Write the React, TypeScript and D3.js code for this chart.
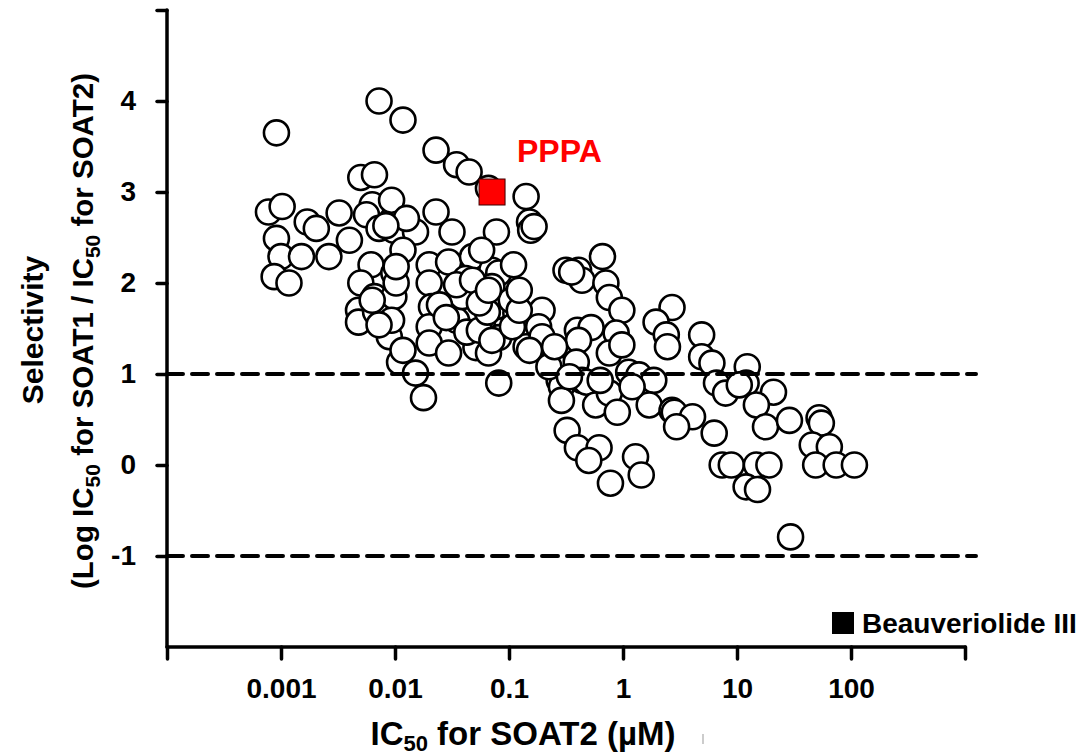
import React, { useEffect, useRef } from 'react'
import * as d3 from 'd3'

// log10 of IC50 for SOAT2 (µM)
const log10IC50 = [
  -3.04, -2.14, -1.93, -1.64, -1.46, -1.35, -1.18, -0.85, -0.82, -0.81, -1.11,
  -3.11, -2.99, -3.04, -3.0, -3.06, -2.93, -2.77, -2.69, -2.82, -2.58, -2.49, -2.4,
  -2.3, -2.18, -2.2, -2.25, -2.03, -2.01, -1.82, -1.9, -1.64, -1.5, -2.21, -2.3,
  -2.32, -2.32, -2.17, -2.18, -2.01, -2.01, -1.99, -2.05, -1.96, -1.82, -1.75, -2.03,
  -1.7, -1.7, -1.68, -1.7, -1.7, -1.53, -1.53, -1.46, -1.41, -1.32, -1.38, -1.15,
  -1.24, -1.09, -1.15, -1.11, -1.22, -1.29, -1.18, -0.94, -0.85, -0.71, -0.74, -1.09,
  -0.62, -0.56, -0.5, -2.14, -1.93, -2.14, -1.93, -1.61, -1.46, -1.37, -1.26, -1.19,
  -1.09, -0.98, -0.96,
  -2.08, -1.99, -2.2, -1.55, -1.32, -1.26, -1.18, -1.15, -0.97, -0.91,
  -0.78, -0.18, -0.39, -0.36, -0.15, -0.12, -0.01, -0.71, -0.82, -0.4, -0.28, -0.39,
  -0.06, -0.12, -0.41, 0.05, 0.14, 0.27, 0.43, 0.29, 0.38, 0.39, 0.69, 0.69, 0.78,
  1.09, 1.08, 0.82, 0.9, 1.32, -0.54, -0.54, -0.36, -0.32, -0.24, -0.12, 0.23, 0.43,
  1.72, -0.65, -0.05, 0.45, 0.61, 0.47, 0.8, 1.02, 1.17, 1.25, 1.46, 1.74, 1.66, 1.81,
  -0.49, -0.4, -0.21, -0.3, -0.11, 0.11, 0.16, 0.87, 0.95, 1.17, 1.28, 1.08, 1.18,
  1.69, 1.87, 2.03, 1.47, -0.01, -0.45, -0.91,
  -0.47, -0.2, 0.08, -0.6
]

// selectivity = log IC50(SOAT1) / IC50(SOAT2)
const selectivity = [
  3.65, 4.0, 3.79, 3.46, 3.3, 3.22, 3.04, 2.95, 2.67, 2.58, 2.56,
  2.78, 2.84, 2.49, 2.29, 2.07, 2.0, 2.67, 2.6, 2.29, 2.29, 2.77, 2.47,
  3.16, 3.19, 2.86, 2.75, 2.91, 2.58, 2.56, 2.71, 2.78, 2.56, 2.2, 2.0,
  1.7, 1.57, 1.68, 1.85, 1.85, 2.11, 2.0, 1.41, 1.13, 1.01, 0.74, 1.59,
  2.2, 2.0, 1.74, 1.52, 1.34, 1.23, 2.23, 1.59, 1.85, 2.29, 2.05, 2.14,
  2.36, 2.11, 1.96, 1.74, 1.48, 1.29, 1.23, 1.67, 1.3, 1.7, 1.52, 0.9,
  1.12, 0.93, 2.14, 2.6, 2.36, 1.54, 1.26, 1.76, 1.98, 1.46, 1.48, 1.68,
  1.4, 1.81, 2.2,
  2.63, 2.18, 1.81, 1.62, 2.03, 1.78, 1.92, 1.37, 1.52, 1.7,
  2.62, 2.29, 2.14, 2.03, 2.0, 1.84, 1.7, 1.41, 1.26, 1.48, 1.51, 1.37,
  1.45, 1.23, 1.13, 1.02, 0.99, 0.93, 1.73, 1.57, 1.43, 1.3, 1.43, 1.19, 1.12,
  1.08, 0.9, 0.9, 0.79, 0.8, 0.86, 0.71, 0.93, 0.91, 0.66, 0.79, 0.66, 0.6,
  0.52, 1.08, 0.58, 0.58, 0.53, 0.42, 0.35, 0.88, 0.66, 0.42, 0.49, 0.46, 0.22, 0.2,
  0.38, 0.19, 0.19, 0.05, -0.2, 0.09, -0.11, 0.0, 0.0, 0.0, 0.0, -0.24, -0.27,
  0.0, 0.0, 0.0, -0.79, 1.32, 2.12, 1.92,
  0.97, 0.93, 0.86, 1.3
]

const pppaIC50 = [0.071]
const pppaSelectivity = [3.0]

const xTicks = [0.0001, 0.001, 0.01, 0.1, 1, 10, 100, 1000]
const xTickLabels = ['', '0.001', '0.01', '0.1', '1', '10', '100', '']
const yTicks = [-1, 0, 1, 2, 3, 4, 5]
const yTickLabels = ['-1', '0', '1', '2', '3', '4', '']
const thresholds = [1, -1]

const FONT = '"Liberation Sans", Arial, Helvetica, sans-serif'

export default function App() {
  const ref = useRef<SVGSVGElement>(null)

  useEffect(() => {
    const svg = d3.select(ref.current)
    svg.selectAll('*').remove()

    const x = d3.scaleLog().domain([1e-4, 1e3]).range([167, 965])
    const y = d3.scaleLinear().domain([-2, 5]).range([647, 10])

    const points = log10IC50.map((v, i) => ({ ic50: Math.pow(10, v), s: selectivity[i] }))

    svg.append('g')
      .selectAll('circle')
      .data(points)
      .enter()
      .append('circle')
      .attr('cx', d => x(d.ic50))
      .attr('cy', d => y(d.s))
      .attr('r', 12.5)
      .attr('fill', '#fff')
      .attr('stroke', '#000')
      .attr('stroke-width', 2.6)

    // PPPA
    svg.append('g')
      .selectAll('rect')
      .data(pppaIC50)
      .enter()
      .append('rect')
      .attr('x', d => x(d) - 13)
      .attr('y', (d, i) => y(pppaSelectivity[i]) - 13)
      .attr('width', 26)
      .attr('height', 26)
      .attr('fill', '#ff0000')
      .attr('stroke', '#3a0000')
      .attr('stroke-width', 1)

    svg.append('text')
      .attr('x', 517)
      .attr('y', 162)
      .attr('fill', '#ff0000')
      .attr('font-family', FONT)
      .attr('font-weight', 'bold')
      .attr('font-size', 32)
      .text('PPPA')

    // threshold lines
    svg.append('g')
      .selectAll('line')
      .data(thresholds)
      .enter()
      .append('line')
      .attr('x1', 167)
      .attr('x2', 976)
      .attr('y1', d => y(d))
      .attr('y2', d => y(d))
      .attr('stroke', '#000')
      .attr('stroke-width', 4)
      .attr('stroke-dasharray', '16,9')
      .attr('stroke-linecap', 'round')

    // axes
    const yAxis = d3.axisLeft(y)
      .tickValues(yTicks)
      .tickSize(10)
      .tickPadding(21)
      .tickFormat((d, i) => yTickLabels[i])
    const gy = svg.append('g').attr('transform', 'translate(167,0)').call(yAxis)

    const xAxis = d3.axisBottom(x)
      .tickValues(xTicks)
      .tickSize(12)
      .tickPadding(19)
      .tickFormat((d, i) => xTickLabels[i])
    const gx = svg.append('g').attr('transform', 'translate(0,647)').call(xAxis)

    ;[gx, gy].forEach(g => {
      g.select('.domain').attr('stroke-width', 3.5).attr('stroke-linecap', 'round')
      g.selectAll('.tick line').attr('stroke-width', 3.5).attr('stroke-linecap', 'round')
      g.selectAll('.tick text')
        .attr('font-family', FONT)
        .attr('font-weight', 'bold')
        .attr('font-size', 28)
        .attr('fill', '#000')
    })
    gy.select('.domain').attr('d', `M0,${y(-2)}V${y(5)}`)
    gx.select('.domain').attr('d', `M${x(1e-4)},0H${x(1e3)}`)

    // axis titles
    const xt = svg.append('text')
      .attr('x', 523)
      .attr('y', 745)
      .attr('text-anchor', 'middle')
      .attr('font-family', FONT)
      .attr('font-weight', 'bold')
      .attr('font-size', 33)
    xt.append('tspan').text('IC')
    xt.append('tspan').attr('dy', 6).attr('font-size', 22).text('50')
    xt.append('tspan').attr('dy', -6).text(' for SOAT2 (µM)')

    svg.append('line')
      .attr('x1', 703).attr('x2', 703)
      .attr('y1', 734).attr('y2', 744)
      .attr('stroke', '#bbb')
      .attr('stroke-width', 1.5)

    svg.append('text')
      .attr('transform', 'translate(43,330) rotate(-90)')
      .attr('text-anchor', 'middle')
      .attr('font-family', FONT)
      .attr('font-weight', 'bold')
      .attr('font-size', 30)
      .text('Selectivity')

    const yt = svg.append('text')
      .attr('transform', 'translate(93,331) rotate(-90)')
      .attr('text-anchor', 'middle')
      .attr('font-family', FONT)
      .attr('font-weight', 'bold')
      .attr('font-size', 29.5)
    yt.append('tspan').text('(Log IC')
    yt.append('tspan').attr('dy', 7).attr('font-size', 21).text('50')
    yt.append('tspan').attr('dy', -7).text(' for SOAT1 / IC')
    yt.append('tspan').attr('dy', 7).attr('font-size', 21).text('50')
    yt.append('tspan').attr('dy', -7).text(' for SOAT2)')

    // legend
    svg.append('rect')
      .attr('x', 832)
      .attr('y', 612)
      .attr('width', 22)
      .attr('height', 22)
      .attr('fill', '#000')
    svg.append('text')
      .attr('x', 862)
      .attr('y', 633)
      .attr('font-family', FONT)
      .attr('font-weight', 'bold')
      .attr('font-size', 28)
      .text('Beauveriolide III')
  }, [])

  return (
    <div>
      <svg
        ref={ref}
        width={1085}
        height={756}
        style={{ position: 'absolute', left: 0, top: 0, background: '#fff' }}
      />
    </div>
  )
}
